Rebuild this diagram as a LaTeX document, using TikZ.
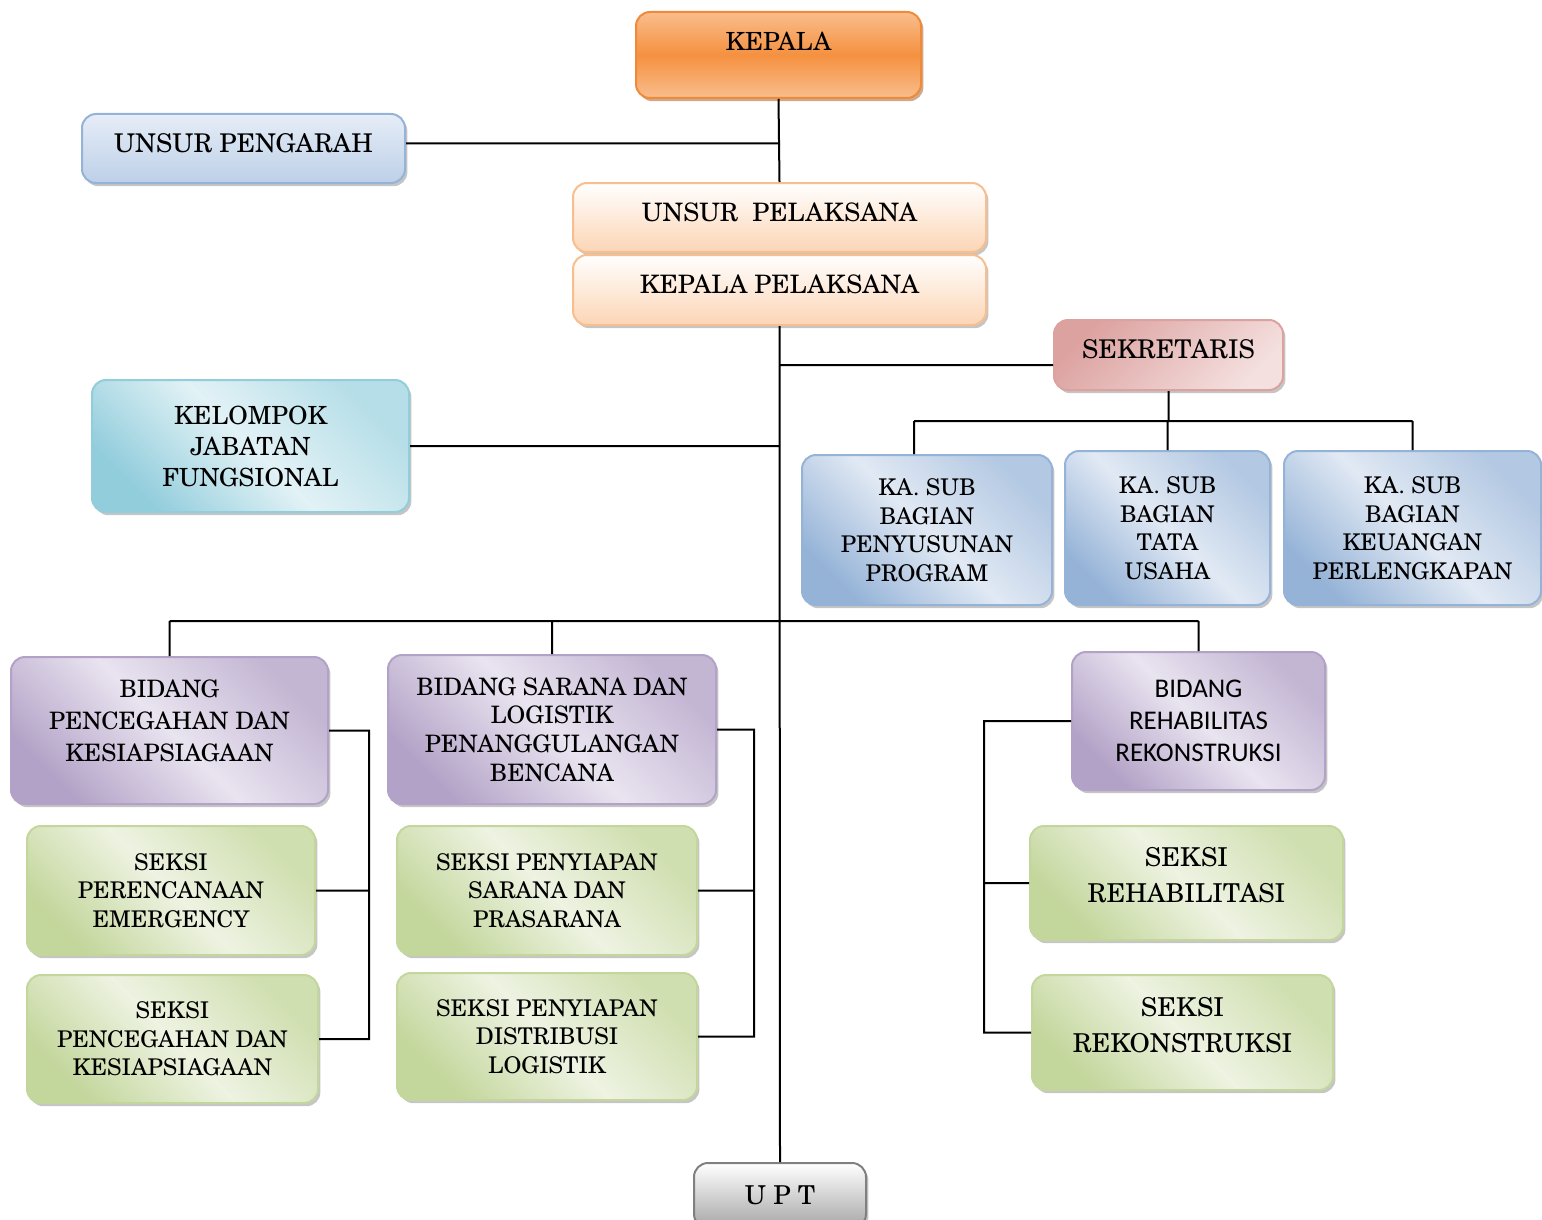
\documentclass[tikz,border=0pt]{standalone}
\usepackage{fontspec}
\setmainfont{texgyreschola-regular.otf}
\newfontfamily\calib{Carlito}
\usetikzlibrary{shadows}
\definecolor{kepLt}{HTML}{F9BD8C}
\definecolor{kepMid}{HTML}{F59140}
\definecolor{kepEdge}{HTML}{EE8A38}
\definecolor{kepShd}{HTML}{A0541C}
\definecolor{pengLt}{HTML}{E6EDF7}
\definecolor{pengDk}{HTML}{BDD0E8}
\definecolor{pengEdge}{HTML}{95B3D7}
\definecolor{pelDk}{HTML}{FCD5B5}
\definecolor{pelEdge}{HTML}{F9BE8E}
\definecolor{sekDk}{HTML}{DCA2A0}
\definecolor{sekLt}{HTML}{F4E0DF}
\definecolor{kelDk}{HTML}{92CDDC}
\definecolor{kelLt}{HTML}{E2F2F6}
\definecolor{subDk}{HTML}{95B3D7}
\definecolor{subLt}{HTML}{E1E9F4}
\definecolor{bidDk}{HTML}{B3A2C7}
\definecolor{bidLt}{HTML}{E9E4F0}
\definecolor{sekiDk}{HTML}{C3D69B}
\definecolor{sekiLt}{HTML}{EEF3E2}
\definecolor{uptDk}{HTML}{A6A6A6}
\begin{document}
\begin{tikzpicture}[x=0.5pt,y=-0.5pt]
\useasboundingbox (0,0) rectangle (1542,1220);
\tikzstyle{bx}=[draw,rounded corners=7pt,line width=1pt,align=center,inner sep=2pt,font=\fontsize{12}{15}\selectfont]
\tikzstyle{sh}=[drop shadow={shadow xshift=1.2pt,shadow yshift=-1.6pt,fill=black!45,opacity=.5}]
\tikzstyle{kepbox}=[bx,draw=kepEdge,top color=kepLt,bottom color=kepLt,middle color=kepMid,drop shadow={shadow xshift=1.2pt,shadow yshift=-1.6pt,fill=kepShd},font=\fontsize{12.5}{15}\selectfont]
\tikzstyle{pengbox}=[bx,sh,draw=pengEdge,top color=pengLt,bottom color=pengDk,font=\fontsize{12.9}{15}\selectfont]
\tikzstyle{pelbox}=[bx,sh,draw=pelEdge,top color=white,bottom color=pelDk,font=\fontsize{12.7}{15}\selectfont]
\tikzstyle{sekbox}=[bx,sh,draw=sekDk,top color=sekDk,bottom color=sekLt,shading angle=45,font=\fontsize{12.9}{15}\selectfont]
\tikzstyle{kelbox}=[bx,sh,draw=kelDk,top color=kelDk!55!kelLt,bottom color=kelDk,middle color=kelLt,shading angle=-45,font=\fontsize{12.5}{15.5}\selectfont]
\tikzstyle{subbox}=[bx,sh,draw=subDk,top color=subDk!60!subLt,bottom color=subDk,middle color=subLt,shading angle=-45,font=\fontsize{11.5}{14.3}\selectfont]
\tikzstyle{bidbox}=[bx,sh,draw=bidDk,top color=bidDk!70!bidLt,bottom color=bidDk,middle color=bidLt,shading angle=-45,font=\fontsize{12}{16}\selectfont]
\tikzstyle{seksibox}=[bx,sh,draw=sekiDk,top color=sekiDk!70!sekiLt,bottom color=sekiDk,middle color=sekiLt,shading angle=-45,font=\fontsize{11.5}{14.3}\selectfont]
\tikzstyle{uptbox}=[bx,sh,draw=black!50,top color=white,bottom color=uptDk,font=\fontsize{13}{15}\selectfont]
\node[kepbox,minimum width=142.5pt,minimum height=43pt,text depth=14pt] (kepala) at (778.5,55) {KEPALA};
\node[pengbox,minimum width=161.5pt,minimum height=34.5pt,text depth=5.5pt] (pengarah) at (243.5,148.5) {UNSUR PENGARAH};
\node[pelbox,minimum width=206.5pt,minimum height=34.5pt,text depth=5.5pt] (pelaksana) at (779.5,217.5) {UNSUR\ \ PELAKSANA};
\node[pelbox,minimum width=206.5pt,minimum height=35pt,text depth=6pt] (kplaksana) at (779.5,290) {KEPALA PELAKSANA};
\node[sekbox,minimum width=114.5pt,minimum height=35pt,text depth=6pt] (sekretaris) at (1168.5,355) {SEKRETARIS};
\node[kelbox,minimum width=158.5pt,minimum height=66pt] (kelompok) at (250.5,446) {KELOMPOK\\JABATAN\\FUNGSIONAL};
\node[subbox,minimum width=125pt,minimum height=75pt] (program) at (927,530) {KA. SUB\\BAGIAN\\PENYUSUNAN\\PROGRAM};
\node[subbox,minimum width=102.5pt,minimum height=77pt] (tatausaha) at (1167.5,528) {KA. SUB\\BAGIAN\\TATA\\USAHA};
\node[subbox,minimum width=128.5pt,minimum height=77pt] (keuangan) at (1412.5,528) {KA. SUB\\BAGIAN\\KEUANGAN\\PERLENGKAPAN};
\node[bidbox,minimum width=158.5pt,minimum height=73.5pt,text depth=10pt] (pencegahan) at (169.5,730.5) {BIDANG\\PENCEGAHAN DAN\\KESIAPSIAGAAN};
\node[bidbox,minimum width=164pt,minimum height=74.5pt,font=\fontsize{12}{14.3}\selectfont] (sarana) at (552,729.5) {BIDANG SARANA DAN\\LOGISTIK\\PENANGGULANGAN\\BENCANA};
\node[bidbox,minimum width=126.5pt,minimum height=69pt,font=\calib\fontsize{13.5}{16}\selectfont] (rehab) at (1198.5,721) {BIDANG\\REHABILITAS\\REKONSTRUKSI};
\node[seksibox,minimum width=144pt,minimum height=64.5pt] (emergency) at (171,890.5) {SEKSI\\PERENCANAAN\\EMERGENCY};
\node[seksibox,minimum width=145.5pt,minimum height=64pt] (kesiap) at (172.5,1039) {SEKSI\\PENCEGAHAN DAN\\KESIAPSIAGAAN};
\node[seksibox,minimum width=150pt,minimum height=64.5pt] (prasarana) at (547,890.5) {SEKSI PENYIAPAN\\SARANA DAN\\PRASARANA};
\node[seksibox,minimum width=150pt,minimum height=63.5pt] (distribusi) at (547,1036.5) {SEKSI PENYIAPAN\\DISTRIBUSI\\LOGISTIK};
\node[seksibox,minimum width=156.5pt,minimum height=57pt,text depth=8pt,font=\fontsize{13}{18}\selectfont] (srehab) at (1186.5,883) {SEKSI\\REHABILITASI};
\node[seksibox,minimum width=150.5pt,minimum height=57.5pt,text depth=8pt,font=\fontsize{13}{18}\selectfont] (srekon) at (1182.5,1032.5) {SEKSI\\REKONSTRUKSI};
\node[uptbox,minimum width=86pt,minimum height=32.5pt] (upt) at (780,1195.5) {U P T};
\coordinate (sbus) at (1170,421);
\coordinate (bbus) at (780,621);
\coordinate (lb) at (369,0);
\coordinate (mb) at (754,0);
\coordinate (rb) at (984,0);
\draw[line width=1pt](kepala.south) -- (pelaksana.north)
([yshift=2.5pt]pengarah.east) -- ([yshift=2.5pt]pengarah.east -| kepala.south)
(kplaksana.south) -- (upt.north)
([yshift=-5pt]sekretaris.west) -- ([yshift=-5pt]sekretaris.west -| kplaksana.south)
(kelompok.east) -- (kelompok.east -| kplaksana.south)
(sekretaris.south) -- (sekretaris.south |- sbus)
([xshift=-6.5pt]program.north |- sbus) -- (keuangan.north |- sbus)
([xshift=-6.5pt]program.north |- sbus) -- ([xshift=-6.5pt]program.north)
(tatausaha.north |- sbus) -- (tatausaha.north)
(keuangan.north |- sbus) -- (keuangan.north)
(pencegahan.north |- bbus) -- (rehab.north |- bbus)
(pencegahan.north |- bbus) -- (pencegahan.north)
(sarana.north |- bbus) -- (sarana.north)
(rehab.north |- bbus) -- (rehab.north)
(pencegahan.east) -- (pencegahan.east -| lb) -- (kesiap.east -| lb) -- (kesiap.east)
(emergency.east) -- (emergency.east -| lb)
(sarana.east) -- (sarana.east -| mb) -- (distribusi.east -| mb) -- (distribusi.east)
(prasarana.east) -- (prasarana.east -| mb)
(rehab.west) -- (rehab.west -| rb) -- (srekon.west -| rb) -- (srekon.west)
(srehab.west) -- (srehab.west -| rb);
\end{tikzpicture}
\end{document}
